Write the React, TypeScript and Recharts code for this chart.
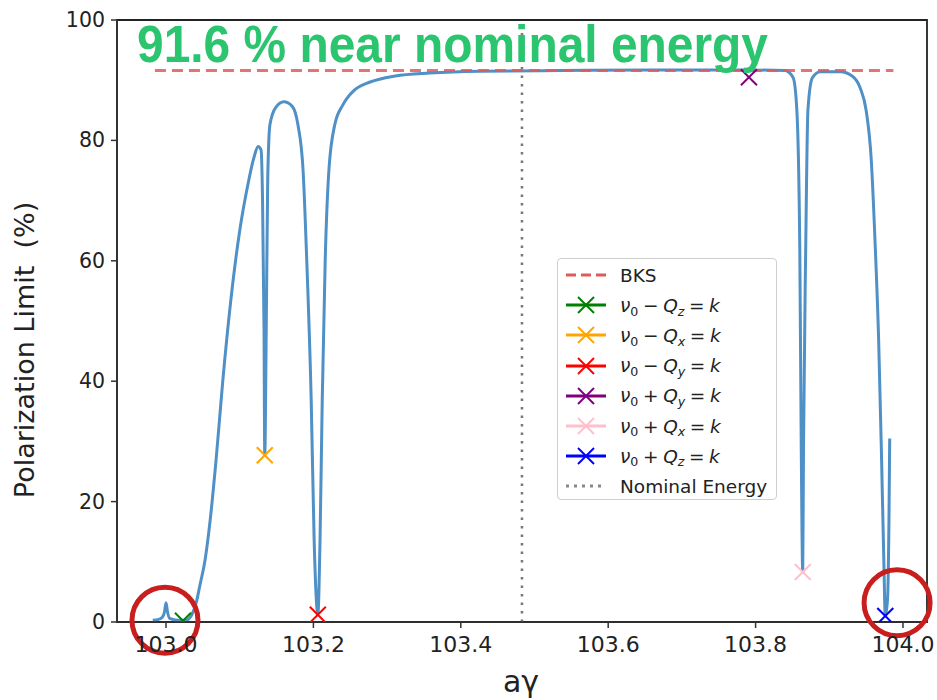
import React from 'react';
import {
  ComposedChart,
  Line,
  Scatter,
  XAxis,
  YAxis,
  ReferenceLine,
  ReferenceArea,
  ReferenceDot,
} from 'recharts';

// ---- data ----
const energy = [
  102.982, 102.989, 102.995, 102.998, 103.0, 103.002, 103.005, 103.016, 103.027,
  103.035, 103.041, 103.046, 103.053, 103.06, 103.068, 103.077, 103.088, 103.1,
  103.111, 103.119, 103.125, 103.129, 103.131, 103.133, 103.134, 103.136, 103.138,
  103.141, 103.149, 103.16, 103.171, 103.179, 103.186, 103.191, 103.197, 103.201,
  103.205, 103.206, 103.209, 103.212, 103.216, 103.221, 103.229, 103.24, 103.256,
  103.277, 103.311, 103.358, 103.426, 103.535, 103.657, 103.779, 103.84, 103.851,
  103.856, 103.86, 103.862, 103.864, 103.865, 103.868, 103.871, 103.877, 103.888,
  103.915, 103.931, 103.942, 103.95, 103.957, 103.962, 103.967, 103.971, 103.974,
  103.976, 103.979, 103.981, 103.982,
];
const polLimit = [
  0.3, 0.4, 0.8, 1.7, 3.2, 1.7, 0.6, 0.3, 0.3,
  1.2, 3.2, 6.1, 10.3, 17, 27, 40, 53.5, 65,
  72.6, 77, 79, 78.4, 70, 48.5, 27.7, 48.5, 73.4,
  82.6, 85.5, 86.4, 85.7, 82.6, 75, 60, 36.9, 13.6,
  2, 1.2, 13.6, 36.9, 60, 75, 82.6, 85.9, 88.4,
  89.7, 90.7, 91.2, 91.5, 91.6, 91.7, 91.7, 91.6, 90.4,
  85, 61.8, 28.6, 8.3, 28.6, 61.8, 85, 90.4, 91.4,
  91.4, 90.7, 88.7, 85, 76.7, 63.5, 46.8, 26.9, 10.3,
  1, 3.7, 17, 30.5,
];
const bksEnergy = [102.985, 103.987];
const bksLimit = [91.6, 91.6];
const nominalEnergy = 103.483;
const xTicks = [103.0, 103.2, 103.4, 103.6, 103.8, 104.0];
const yTicks = [0, 20, 40, 60, 80, 100];
const xDomain = [102.9335, 104.0326];
const yDomain = [0, 100];

const resonanceSign = ['-', '-', '-', '+', '+', '+'];
const resonanceSub = ['z', 'x', 'y', 'y', 'x', 'z'];
const resonanceColors = ['green', 'orange', 'red', 'purple', 'pink', 'blue'];
const resonanceX = [103.023, 103.134, 103.206, 103.791, 103.864, 103.976];
const resonanceY = [0.2, 27.7, 1.2, 90.5, 8.3, 1.0];

// highlighted regions (red circles)
const highlightX = [102.9986, 103.992];
const highlightY = [0.3, 3.2];

const titleText = '91.6 % near nominal energy';
const yLabel = 'Polarization Limit\u00a0\u00a0(%)';
const xLabel = 'aγ';

// ---- derived tables ----
const curveData = energy.map((x, i) => ({ x, y: polLimit[i] }));
const bksData = bksEnergy.map((x, i) => ({ x, y: bksLimit[i] }));

const FONT = '"DejaVu Sans", sans-serif';
const CURVE = '#4f90c6';
const BKS = '#e05a5a';

const makeX = (color: string, s = 8, w = 2) => (props: any) => {
  const { cx, cy } = props;
  if (cx == null || cy == null) return <g />;
  return (
    <g>
      <line x1={cx - s} y1={cy - s} x2={cx + s} y2={cy + s} stroke={color} strokeWidth={w} />
      <line x1={cx - s} y1={cy + s} x2={cx + s} y2={cy - s} stroke={color} strokeWidth={w} />
    </g>
  );
};

const XTick = (props: any) => {
  const { x, y, payload } = props;
  return (
    <text x={x} y={y + 22} textAnchor="middle" fontFamily={FONT} fontSize={22} fill="#222">
      {Number(payload.value).toFixed(1)}
    </text>
  );
};

const YTick = (props: any) => {
  const { x, y, payload } = props;
  return (
    <text x={x - 4} y={y + 7} textAnchor="end" fontFamily={FONT} fontSize={20.5} fill="#222">
      {payload.value}
    </text>
  );
};

const MathLabel = ({ sign, sub }: { sign: string; sub: string }) => (
  <span>
    <i>ν</i>
    <span style={{ fontSize: '0.68em', position: 'relative', top: '0.3em' }}>0</span>
    <span style={{ margin: '0 0.25em' }}>{sign === '-' ? '−' : '+'}</span>
    <i>Q</i>
    <i style={{ fontSize: '0.68em', position: 'relative', top: '0.3em' }}>{sub}</i>
    <span style={{ margin: '0 0.25em' }}>=</span>
    <i>k</i>
  </span>
);

const LegendBox = () => {
  const rowH = 30.2;
  const handle = (kind: string, color: string) => (
    <svg width={44} height={20} style={{ display: 'block' }}>
      {kind === 'dash' && (
        <line x1={2} y1={10} x2={42} y2={10} stroke={BKS} strokeWidth={3} strokeDasharray="10 5" />
      )}
      {kind === 'dot' && (
        <line x1={2} y1={10} x2={42} y2={10} stroke="#888" strokeWidth={3} strokeDasharray="3 5" />
      )}
      {kind === 'x' && (
        <g>
          <line x1={2} y1={10} x2={42} y2={10} stroke={color} strokeWidth={3} />
          <line x1={14} y1={2} x2={30} y2={18} stroke={color} strokeWidth={2} />
          <line x1={14} y1={18} x2={30} y2={2} stroke={color} strokeWidth={2} />
        </g>
      )}
    </svg>
  );
  const row = (key: string, icon: React.ReactNode, label: React.ReactNode) => (
    <div key={key} style={{ display: 'flex', alignItems: 'center', height: rowH }}>
      <div style={{ width: 56, paddingLeft: 6 }}>{icon}</div>
      <div style={{ whiteSpace: 'nowrap' }}>{label}</div>
    </div>
  );
  return (
    <div
      style={{
        position: 'absolute',
        left: 557,
        top: 258,
        width: 220,
        height: 242,
        border: '1px solid #cfcfcf',
        borderRadius: 4,
        background: 'rgba(255,255,255,0.85)',
        fontFamily: FONT,
        fontSize: 18.5,
        color: '#222',
        boxSizing: 'border-box',
        paddingTop: 1,
      }}
    >
      {row('bks', handle('dash', BKS), 'BKS')}
      {resonanceColors.map((c, i) =>
        row('r' + i, handle('x', c), <MathLabel sign={resonanceSign[i]} sub={resonanceSub[i]} />)
      )}
      {row('nom', handle('dot', '#888'), 'Nominal Energy')}
    </div>
  );
};

export default function App() {
  return (
    <div style={{ position: 'absolute', left: 0, top: 0, width: 937, height: 700, background: '#fff' }}>
      <ComposedChart width={937} height={700} margin={{ top: 20, right: 10, left: 0, bottom: 0 }}>
        <XAxis
          type="number"
          dataKey="x"
          domain={xDomain}
          ticks={xTicks}
          allowDataOverflow
          height={78}
          tickSize={6}
          tick={<XTick />}
          stroke="#333"
          strokeWidth={1.5}
        />
        <YAxis
          type="number"
          dataKey="y"
          domain={yDomain}
          ticks={yTicks}
          allowDataOverflow
          width={117}
          tickSize={6}
          tick={<YTick />}
          stroke="#333"
          strokeWidth={1.5}
        />
        <ReferenceArea
          x1={xDomain[0]}
          x2={xDomain[1]}
          y1={yDomain[0]}
          y2={yDomain[1]}
          fill="none"
          fillOpacity={0}
          stroke="#222"
          strokeWidth={1.8}
          ifOverflow="visible"
        />
        <ReferenceLine x={nominalEnergy} stroke="#777" strokeWidth={2.5} strokeDasharray="2.5 6" />
        <Line
          data={curveData}
          dataKey="y"
          type="monotone"
          stroke={CURVE}
          strokeWidth={3}
          dot={false}
          isAnimationActive={false}
          legendType="none"
        />
        <Line
          data={bksData}
          dataKey="y"
          type="linear"
          stroke={BKS}
          strokeOpacity={0.85}
          strokeWidth={3}
          strokeDasharray="11 6"
          dot={false}
          isAnimationActive={false}
        />
        {resonanceColors.map((c, i) => (
          <Scatter
            key={c}
            data={[{ x: resonanceX[i], y: resonanceY[i] }]}
            dataKey="y"
            fill={c}
            shape={makeX(c)}
            isAnimationActive={false}
          />
        ))}
        {highlightX.map((hx, i) => (
          <ReferenceDot
            key={'h' + i}
            x={hx}
            y={highlightY[i]}
            r={33}
            fill="none"
            fillOpacity={0}
            stroke="#c81e1e"
            strokeWidth={5}
            ifOverflow="visible"
          />
        ))}
      </ComposedChart>
      <LegendBox />
      <svg
        width={937}
        height={700}
        style={{ position: 'absolute', left: 0, top: 0, pointerEvents: 'none' }}
      >
        <text
          x={137}
          y={62}
          fontFamily='"Liberation Sans", Arial, sans-serif'
          fontWeight="bold"
          fontSize={52}
          fill="#2bc46f"
          textLength={631}
          lengthAdjust="spacingAndGlyphs"
        >
          {titleText}
        </text>
        <text
          transform="translate(34,350) rotate(-90)"
          textAnchor="middle"
          fontFamily={FONT}
          fontSize={27}
          fill="#222"
        >
          {yLabel}
        </text>
        <text x={521} y={692} textAnchor="middle" fontFamily={FONT} fontSize={30} fill="#222">
          {xLabel}
        </text>
      </svg>
    </div>
  );
}
